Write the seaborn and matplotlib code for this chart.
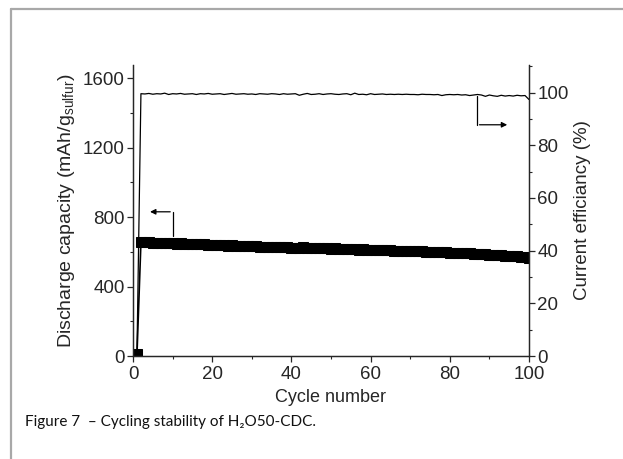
import numpy as np
import pandas as pd
import seaborn as sns
import matplotlib.pyplot as plt
from matplotlib.lines import Line2D
from matplotlib.ticker import MultipleLocator

# %% data
cycles = list(range(1, 101))
capacity = [10, 655, 654, 656, 652, 653, 650, 651, 648, 649,
            647, 648, 645, 646, 644, 645, 642, 643, 641, 640,
            640, 638, 639, 636, 637, 635, 634, 635, 632, 631,
            632, 630, 629, 630, 627, 628, 626, 625, 626, 623,
            624, 622, 625, 621, 623, 620, 622, 619, 620, 618,
            619, 617, 616, 618, 615, 616, 613, 614, 612, 613,
            611, 610, 611, 608, 609, 607, 606, 607, 604, 605,
            603, 602, 603, 600, 601, 599, 598, 597, 596, 595,
            594, 593, 592, 591, 590, 589, 588, 586, 585, 584,
            583, 581, 580, 578, 577, 575, 573, 571, 569, 566]
efficiency = [1.5, 99.6, 99.5, 99.7, 99.4, 99.6, 99.5, 99.8, 99.3, 99.6,
              99.5, 99.7, 99.4, 99.5, 99.6, 99.3, 99.6, 99.5, 99.7, 99.4,
              99.5, 99.6, 99.3, 99.5, 99.7, 99.4, 99.5, 99.6, 99.4, 99.5,
              99.3, 99.6, 99.5, 99.4, 99.6, 99.5, 99.3, 99.6, 99.4, 99.5,
              99.6, 99.0, 99.4, 99.7, 99.3, 99.4, 99.6, 99.3, 99.5, 99.6,
              99.4, 99.3, 99.5, 99.6, 99.2, 99.8, 99.3, 99.4, 99.2, 99.6,
              99.3, 99.4, 99.5, 99.3, 99.4, 99.3, 99.4, 99.3, 99.4, 99.3,
              99.3, 99.2, 99.4, 99.3, 99.3, 99.2, 99.3, 98.9, 99.2, 99.3,
              99.2, 99.3, 99.1, 99.2, 98.9, 99.1, 99.3, 99.1, 98.6, 99.1,
              98.8, 98.6, 99.0, 98.7, 98.9, 98.7, 99.0, 98.8, 98.9, 97.4]

df = pd.DataFrame({'Cycle': cycles, 'Capacity': capacity, 'Efficiency': efficiency})

# %% style
sns.set_style('ticks')
plt.rcParams['font.family'] = ['Liberation Sans', 'DejaVu Sans']
plt.rcParams['mathtext.fontset'] = 'custom'
plt.rcParams['mathtext.rm'] = 'Liberation Sans'
plt.rcParams['mathtext.it'] = 'Liberation Sans:italic'
plt.rcParams['axes.linewidth'] = 0.9

fig = plt.figure(figsize=(6.23, 4.59), dpi=100)
fig.patch.set_facecolor('white')
ax = fig.add_axes([0.2135, 0.2244, 0.6356, 0.634])
ax2 = ax.twinx()

sns.lineplot(data=df, x='Cycle', y='Capacity', ax=ax, color='black',
             marker='s', markersize=7, markeredgecolor='black', linewidth=1.2)
sns.lineplot(data=df, x='Cycle', y='Efficiency', ax=ax2, color='black', linewidth=0.9)

ax.set_xlim(0, 100)
ax.set_ylim(0, 1675)
ax2.set_ylim(0, 110.5)
ax.xaxis.set_major_locator(MultipleLocator(20))
ax.xaxis.set_minor_locator(MultipleLocator(10))
ax.yaxis.set_major_locator(MultipleLocator(400))
ax.yaxis.set_minor_locator(MultipleLocator(200))
ax2.yaxis.set_major_locator(MultipleLocator(20))
ax2.yaxis.set_minor_locator(MultipleLocator(10))

for a in (ax, ax2):
    a.spines['top'].set_visible(False)
    a.tick_params(which='major', direction='out', length=4, width=0.9, labelsize=13.5, pad=2)
    a.tick_params(which='minor', direction='out', length=2.5, width=0.8)
ax2.spines['right'].set_visible(True)
ax.tick_params(axis='x', pad=3.5)

ax.set_xlabel('Cycle number', fontsize=13, labelpad=4)
ax.set_ylabel(r'Discharge capacity (mAh/g$_{\mathrm{sulfur}}$)', fontsize=14, labelpad=4)
ax2.set_ylabel('Current efficiancy (%)', fontsize=13.5, labelpad=4)

# pointer arrows
ax.plot([10, 10], [690, 830], color='black', lw=0.9)
ax.annotate('', xy=(3.6, 830), xytext=(10.1, 830),
            arrowprops=dict(arrowstyle='-|>', color='black', lw=0.9, mutation_scale=8))
ax2.plot([86.9, 86.9], [98.7, 87.8], color='black', lw=0.9)
ax2.annotate('', xy=(95.2, 87.8), xytext=(86.8, 87.8),
             arrowprops=dict(arrowstyle='-|>', color='black', lw=0.9, mutation_scale=8))

# page border and caption
fig.add_artist(Line2D([10.5 / 623, 1], [1 - 9 / 459, 1 - 9 / 459], color='#a8a8a8', lw=1.6))
fig.add_artist(Line2D([10.5 / 623, 10.5 / 623], [0, 1 - 9 / 459], color='#a8a8a8', lw=1.6))
fig.text(25 / 623, 1 - 422 / 459, 'Figure 7  \u2013 Cycling stability of H\u2082O50-CDC.',
         fontsize=11, family=['Lato', 'DejaVu Sans'], va='center', ha='left', color='#111111')

fig.savefig('out.png', dpi=100)
